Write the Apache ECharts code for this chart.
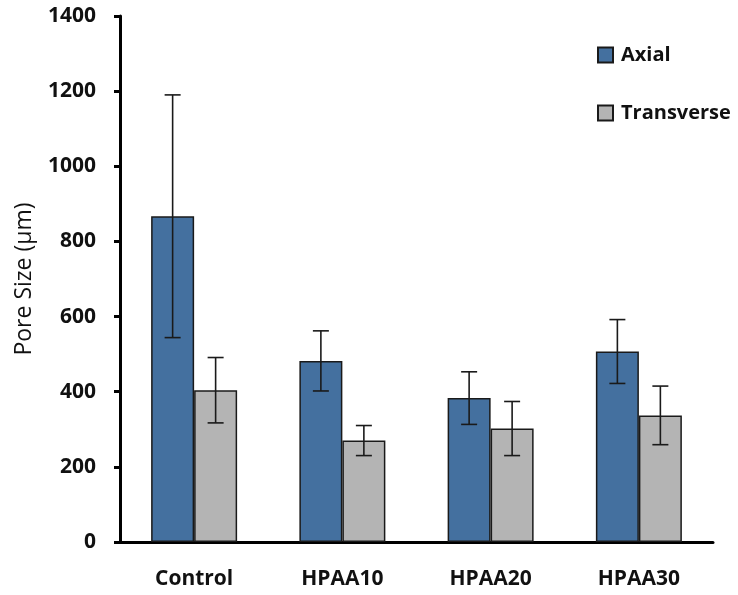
<!DOCTYPE html>
<html>
<head>
<meta charset="utf-8">
<script src="https://cdn.jsdelivr.net/npm/echarts@6/dist/echarts.min.js"></script>
<style>html,body{margin:0;padding:0;background:#fff}#chart{width:738px;height:595px}</style>
</head>
<body>
<div id="chart"></div>
<script>
var categories = ['Control', 'HPAA10', 'HPAA20', 'HPAA30'];
var axialMean = [867, 482, 383, 507];
var axialErr = [323, 80, 70, 85];
var transMean = [404, 270, 302, 337];
var transErr = [87, 40, 72, 78];
var yTicks = [0, 200, 400, 600, 800, 1000, 1200, 1400];

var GAP = 0.42;
var FONT = '"Open Sans", "Liberation Sans", sans-serif';

function errData(mean, err) {
  return mean.map(function (m, i) { return [i, m - err[i], m + err[i]]; });
}
function errRender(sign) {
  return function (params, api) {
    var x = api.value(0);
    var lo = api.coord([x, api.value(1)]);
    var hi = api.coord([x, api.value(2)]);
    var cw = api.size([1, 0])[0];
    var bw = cw * (1 - GAP) / 2;
    var cx = lo[0] + sign * bw / 2;
    var hw = 8;
    var st = { stroke: '#1a1a1a', lineWidth: 1.6 };
    return {
      type: 'group',
      children: [
        { type: 'line', shape: { x1: cx, y1: lo[1], x2: cx, y2: hi[1] }, style: st },
        { type: 'line', shape: { x1: cx - hw, y1: hi[1], x2: cx + hw, y2: hi[1] }, style: st },
        { type: 'line', shape: { x1: cx - hw, y1: lo[1], x2: cx + hw, y2: lo[1] }, style: st }
      ]
    };
  };
}

var chart = echarts.init(document.getElementById('chart'));
chart.setOption({
  animation: false,
  backgroundColor: '#fff',
  textStyle: { fontFamily: FONT },
  grid: { left: 120, right: 25, top: 16, bottom: 53 },
  legend: {
    orient: 'vertical',
    left: 597,
    top: 45,
    padding: 0,
    itemWidth: 15,
    itemHeight: 15,
    itemGap: 38,
    icon: 'rect',
    textStyle: { fontFamily: FONT, fontWeight: 'bold', fontSize: 20, color: '#111', padding: [0, 0, 0, 3] },
    data: ['Axial', 'Transverse']
  },
  xAxis: {
    type: 'category',
    data: categories,
    axisLine: { lineStyle: { color: '#000', width: 3 } },
    axisTick: { length: 7, lineStyle: { color: '#000', width: 3 } },
    axisLabel: { margin: 27, fontFamily: FONT, fontWeight: 'bold', fontSize: 21, color: '#111' }
  },
  yAxis: {
    type: 'value',
    min: yTicks[0],
    max: yTicks[yTicks.length - 1],
    interval: 200,
    name: 'Pore Size (µm)',
    nameLocation: 'middle',
    nameGap: 84,
    nameTextStyle: { fontFamily: FONT, fontSize: 23, fontWeight: 500, color: '#111' },
    splitLine: { show: false },
    axisLine: { show: true, lineStyle: { color: '#000', width: 3 } },
    axisTick: { show: true, length: 6, lineStyle: { color: '#000', width: 3 } },
    axisLabel: {
      margin: 24, fontFamily: FONT, fontWeight: 'bold', fontSize: 21, color: '#111',
      formatter: function (v) { return String(v); }
    }
  },
  series: [
    {
      name: 'Axial', type: 'bar', data: axialMean,
      barGap: '0%', barCategoryGap: (GAP * 100) + '%',
      itemStyle: { color: '#44709F', borderColor: '#1a1a1a', borderWidth: 1.5 }
    },
    {
      name: 'Transverse', type: 'bar', data: transMean,
      barGap: '0%', barCategoryGap: (GAP * 100) + '%',
      itemStyle: { color: '#B4B4B4', borderColor: '#1a1a1a', borderWidth: 1.5 }
    },
    {
      name: 'AxialErr', type: 'custom', data: errData(axialMean, axialErr),
      renderItem: errRender(-1), z: 10, encode: { x: 0, y: [1, 2] }
    },
    {
      name: 'TransErr', type: 'custom', data: errData(transMean, transErr),
      renderItem: errRender(1), z: 10, encode: { x: 0, y: [1, 2] }
    }
  ]
});
</script>
</body>
</html>
